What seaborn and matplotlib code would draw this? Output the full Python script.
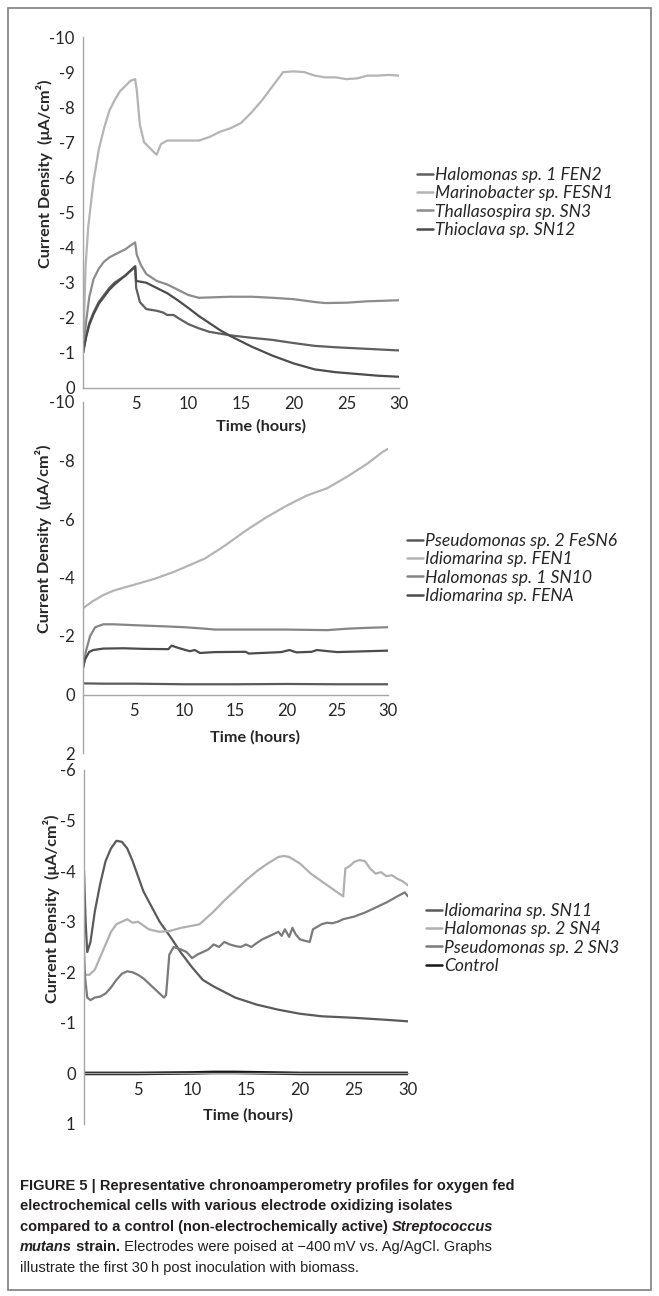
import numpy as np
import pandas as pd
import matplotlib
matplotlib.use("Agg")
import matplotlib.pyplot as plt
from matplotlib.patches import Rectangle
from matplotlib.font_manager import FontProperties
import seaborn as sns

sns.set_style("white")
plt.rcParams["font.family"] = ["Lato", "DejaVu Sans"]
plt.rcParams["axes.unicode_minus"] = False

# ---- panel A (top) ----
top_names = ["Halomonas sp. 1 FEN2", "Marinobacter sp. FESN1",
             "Thallasospira sp. SN3", "Thioclava sp. SN12"]
top_colors = ["#5f5f5f", "#b4b4b4", "#8c8c8c", "#4c4c4c"]

t_fen2 = [0, 0.3, 0.6, 1.0, 1.5, 2.0, 2.5, 3.0, 4.0, 4.95, 5.05, 5.4, 6.0, 7.0, 7.6, 8.0, 8.6,
          9.0, 10.0, 11.0, 12.0, 13.0, 14.0, 16.0, 18.0, 20.0, 22.0, 24.0, 26.0, 28.0, 30.0]
fen2 = [-1.0, -1.5, -1.85, -2.15, -2.45, -2.65, -2.85, -3.0, -3.2, -3.45, -2.85, -2.45, -2.25,
        -2.2, -2.15, -2.08, -2.08, -2.0, -1.82, -1.7, -1.6, -1.55, -1.5, -1.43, -1.37, -1.28,
        -1.2, -1.16, -1.13, -1.1, -1.07]

t_fesn1 = [0, 0.25, 0.5, 1.0, 1.5, 2.0, 2.5, 3.0, 3.5, 4.0, 4.5, 4.95, 5.1, 5.4, 5.8, 6.3, 6.8,
           7.0, 7.4, 8.0, 9.0, 10.0, 11.0, 12.0, 13.0, 14.0, 15.0, 16.0, 17.0, 18.0, 19.0, 20.0,
           21.0, 22.0, 23.0, 24.0, 25.0, 26.0, 27.0, 28.0, 29.0, 30.0]
fesn1 = [-1.0, -3.5, -4.6, -5.9, -6.8, -7.4, -7.9, -8.2, -8.45, -8.6, -8.75, -8.8, -8.5, -7.5,
         -7.0, -6.85, -6.7, -6.65, -6.95, -7.05, -7.05, -7.05, -7.05, -7.15, -7.3, -7.4, -7.55,
         -7.85, -8.2, -8.6, -9.0, -9.02, -9.0, -8.9, -8.85, -8.85, -8.8, -8.82, -8.9, -8.9,
         -8.92, -8.9]

t_sn3a = [0, 0.3, 0.6, 1.0, 1.5, 2.0, 2.5, 3.0, 4.0, 4.95, 5.1, 5.5, 6.0, 7.0, 8.0, 9.0, 10.0,
          11.0, 12.0, 14.0, 16.0, 18.0, 20.0, 22.0, 23.0, 25.0, 27.0, 30.0]
sn3a = [-1.0, -1.9, -2.6, -3.1, -3.4, -3.6, -3.72, -3.8, -3.95, -4.15, -3.8, -3.5, -3.25, -3.05,
        -2.95, -2.8, -2.65, -2.57, -2.58, -2.6, -2.6, -2.57, -2.53, -2.45, -2.42, -2.43, -2.47,
        -2.5]

t_sn12 = [0, 0.3, 0.6, 1.0, 1.5, 2.0, 2.5, 3.0, 4.0, 4.95, 5.05, 6.0, 7.0, 8.0, 9.0, 10.0, 11.0,
          12.0, 13.0, 14.0, 16.0, 18.0, 20.0, 22.0, 24.0, 26.0, 28.0, 30.0]
sn12 = [-1.0, -1.45, -1.8, -2.1, -2.4, -2.6, -2.8, -2.95, -3.2, -3.47, -3.05, -3.0, -2.85, -2.7,
        -2.5, -2.28, -2.05, -1.85, -1.65, -1.48, -1.18, -0.92, -0.7, -0.53, -0.45, -0.4, -0.35,
        -0.32]

# ---- panel B (middle) ----
mid_names = ["Pseudomonas sp. 2 FeSN6", "Idiomarina sp. FEN1",
             "Halomonas sp. 1 SN10", "Idiomarina sp. FENA"]
mid_colors = ["#5a5a5a", "#b4b4b4", "#858585", "#4c4c4c"]

t_fesn6 = [0, 0.1, 2, 5, 10, 15, 20, 25, 30]
fesn6 = [-0.4, -0.38, -0.37, -0.37, -0.35, -0.35, -0.36, -0.35, -0.35]

t_fen1 = [0, 1, 2, 3, 5, 7, 9, 10, 12, 14, 16, 18, 20, 22, 24, 26, 28, 29.5, 30]
fen1 = [-2.95, -3.2, -3.4, -3.55, -3.75, -3.95, -4.2, -4.35, -4.65, -5.1, -5.6, -6.05, -6.45,
        -6.8, -7.05, -7.45, -7.9, -8.3, -8.4]

t_sn10 = [0, 0.3, 0.7, 1.2, 2.0, 3.0, 5.0, 8.0, 10.0, 12.0, 13.0, 16.0, 20.0, 24.0, 26.0, 28.0, 30.0]
sn10 = [-0.9, -1.5, -2.0, -2.3, -2.4, -2.4, -2.37, -2.33, -2.3, -2.25, -2.22, -2.22, -2.22,
        -2.2, -2.25, -2.28, -2.3]

t_fena = [0, 0.2, 0.6, 1.0, 2.0, 4.0, 6.0, 8.4, 8.7, 9.5, 10.5, 11.0, 11.5, 13.0, 16.0, 16.3,
          19.5, 20.3, 21.0, 22.5, 23.0, 25.0, 28.0, 30.0]
fena = [-0.9, -1.2, -1.45, -1.52, -1.57, -1.58, -1.56, -1.55, -1.67, -1.58, -1.48, -1.52, -1.42,
        -1.45, -1.46, -1.4, -1.45, -1.52, -1.44, -1.46, -1.52, -1.45, -1.48, -1.5]

# ---- panel C (bottom) ----
bot_names = ["Idiomarina sp. SN11", "Halomonas sp. 2 SN4",
             "Pseudomonas sp. 2 SN3", "Control"]
bot_colors = ["#5a5a5a", "#b0b0b0", "#7a7a7a", "#161616"]

t_sn11 = [0, 0.15, 0.3, 0.6, 1.0, 1.5, 2.0, 2.5, 3.0, 3.5, 4.0, 4.5, 5.0, 5.5, 6.0, 7.0, 8.0,
          9.0, 10.0, 11.0, 12.0, 14.0, 16.0, 18.0, 20.0, 22.0, 25.0, 28.0, 30.0]
sn11 = [-4.0, -3.0, -2.4, -2.6, -3.2, -3.75, -4.2, -4.45, -4.6, -4.58, -4.45, -4.2, -3.9, -3.6,
        -3.4, -3.0, -2.7, -2.38, -2.1, -1.85, -1.72, -1.5, -1.36, -1.26, -1.18, -1.13, -1.1,
        -1.06, -1.03]

t_sn4 = [0, 0.5, 1.0, 1.5, 2.0, 2.5, 3.0, 3.5, 4.0, 4.5, 5.0, 6.0, 7.0, 8.0, 9.0, 10.0, 10.7,
         12.0, 13.0, 14.0, 15.0, 16.0, 17.0, 18.0, 18.5, 19.0, 20.0, 21.0, 22.0, 23.0, 24.0,
         24.2, 24.6, 25.0, 25.5, 26.0, 26.5, 27.0, 27.5, 28.0, 28.5, 29.0, 29.5, 30.0]
sn4 = [-1.95, -1.95, -2.05, -2.3, -2.55, -2.8, -2.95, -3.0, -3.05, -2.98, -3.0, -2.85, -2.8,
       -2.82, -2.88, -2.92, -2.95, -3.2, -3.42, -3.62, -3.82, -4.0, -4.15, -4.28, -4.3, -4.28,
       -4.15, -3.95, -3.8, -3.65, -3.5, -4.05, -4.1, -4.18, -4.22, -4.2, -4.05, -3.95, -3.98,
       -3.9, -3.92, -3.85, -3.8, -3.72]

t_sn3b = [0, 0.1, 0.3, 0.6, 1.0, 1.5, 2.0, 2.5, 3.0, 3.5, 4.0, 4.5, 5.0, 5.5, 6.0, 6.5, 7.0, 7.4,
          7.6, 7.9, 8.3, 9.0, 9.5, 10.0, 10.5, 11.0, 11.5, 12.0, 12.5, 13.0, 13.5, 14.0, 14.5,
          15.0, 15.5, 16.0, 16.5, 17.0, 17.5, 18.0, 18.3, 18.6, 19.0, 19.3, 19.6, 20.0, 20.5,
          20.9, 21.2, 21.6, 22.0, 22.5, 23.0, 23.5, 24.0, 25.0, 26.0, 27.0, 28.0, 29.0, 29.7, 30.0]
sn3b = [-2.4, -1.9, -1.5, -1.45, -1.5, -1.52, -1.58, -1.7, -1.85, -1.97, -2.02, -2.0, -1.95,
        -1.88, -1.78, -1.68, -1.58, -1.5, -1.55, -2.35, -2.5, -2.45, -2.4, -2.28, -2.35, -2.4,
        -2.45, -2.55, -2.5, -2.6, -2.55, -2.52, -2.5, -2.55, -2.5, -2.58, -2.65, -2.7, -2.75,
        -2.8, -2.72, -2.85, -2.7, -2.88, -2.75, -2.65, -2.62, -2.6, -2.85, -2.9, -2.95, -2.98,
        -2.97, -3.0, -3.05, -3.1, -3.18, -3.28, -3.38, -3.5, -3.58, -3.5]

t_ctrl = [0, 5, 10, 12, 14, 17, 20, 25, 30]
ctrl = [0.0, 0.0, -0.01, -0.02, -0.02, -0.01, 0.0, 0.0, 0.0]

W, H = 659, 1296
fig = plt.figure(figsize=(W / 100, H / 100), dpi=100)
fig.patches.append(Rectangle((8 / W, 1 - 1290 / H), 643 / W, 1282 / H, transform=fig.transFigure,
                             fill=False, edgecolor="#7f7f7f", linewidth=1.2))


def px_axes(left, right, top, bottom):
    ax = fig.add_axes([left / W, 1 - bottom / H, (right - left) / W, (bottom - top) / H])
    ax.set_facecolor("none")
    return ax


def draw_panel(ax, series, names, colors):
    frames = [pd.DataFrame({"time": t, "current": v, "strain": n})
              for (t, v), n in zip(series, names)]
    df = pd.concat(frames, ignore_index=True)
    sns.lineplot(data=df, x="time", y="current", hue="strain", hue_order=names,
                 palette=colors, estimator=None, sort=False, legend=False,
                 linewidth=1.6, ax=ax)


def style_axes(ax):
    for s in ["top", "right"]:
        ax.spines[s].set_visible(False)
    for s in ["left", "bottom"]:
        ax.spines[s].set_color("#a6a6a6")
        ax.spines[s].set_linewidth(1.0)
    ax.tick_params(axis="both", direction="out", length=4, width=1, color="#a6a6a6",
                   labelsize=12, labelcolor="#262626", pad=2)
    ax.set_xlim(0, 30)
    ax.set_xticks([5, 10, 15, 20, 25, 30])
    ax.grid(False)


def add_legend(ax, names, x, y):
    leg = ax.legend(ax.lines, names, loc="upper left", bbox_to_anchor=(x / W, 1 - y / H),
                    bbox_transform=fig.transFigure, frameon=False,
                    prop=FontProperties(family="Lato", style="italic", size=12.6),
                    handlelength=0.9, handletextpad=0.15, labelspacing=0.13,
                    borderpad=0, borderaxespad=0)
    for h in leg.get_lines():
        h.set_linewidth(1.8)


ylab = "Current Density  (\u03bcA/cm\u00b2)"

# top panel
ax1 = px_axes(83, 399, 37, 388)
draw_panel(ax1, [(t_fen2, fen2), (t_fesn1, fesn1), (t_sn3a, sn3a), (t_sn12, sn12)],
           top_names, top_colors)
style_axes(ax1)
ax1.set_ylim(0, -10)
ax1.set_yticks(np.arange(0, -11, -1))
ax1.set_ylabel(ylab, fontsize=11.7, fontweight="bold")
ax1.yaxis.set_label_coords(-0.095, 0.61)
ax1.set_xlabel("Time (hours)", fontsize=11.7, fontweight="bold")
ax1.xaxis.set_label_coords(0.563, -0.09)
add_legend(ax1, top_names, 417, 167)

# middle panel
ax2 = px_axes(83, 388, 402, 753)
draw_panel(ax2, [(t_fesn6, fesn6), (t_fen1, fen1), (t_sn10, sn10), (t_fena, fena)],
           mid_names, mid_colors)
style_axes(ax2)
ax2.set_ylim(2, -10)
ax2.set_yticks(np.arange(2, -11, -2))
ax2.spines["bottom"].set_position(("data", 0))
ax2.set_ylabel(ylab, fontsize=11.7, fontweight="bold")
ax2.yaxis.set_label_coords(-0.102, 0.61)
ax2.set_xlabel("Time (hours)", fontsize=11.7, fontweight="bold")
ax2.xaxis.set_label_coords(0.564, 0.066)
add_legend(ax2, mid_names, 407, 533)

# bottom panel
ax3 = px_axes(84, 408, 770, 1124)
draw_panel(ax3, [(t_sn11, sn11), (t_sn4, sn4), (t_sn3b, sn3b), (t_ctrl, ctrl)],
           bot_names, bot_colors)
ax3.lines[-1].set_linewidth(2.6)
style_axes(ax3)
ax3.set_ylim(1, -6)
ax3.set_yticks(np.arange(1, -7, -1))
ax3.spines["bottom"].set_position(("data", 0))
ax3.set_ylabel(ylab, fontsize=11.7, fontweight="bold")
ax3.yaxis.set_label_coords(-0.074, 0.607)
ax3.set_xlabel("Time (hours)", fontsize=11.7, fontweight="bold")
ax3.xaxis.set_label_coords(0.506, 0.045)
add_legend(ax3, bot_names, 426, 903)

# caption with mixed styles
cap_family = ["Liberation Sans Narrow", "Liberation Sans", "DejaVu Sans"]
cap_lines = [
    [("FIGURE 5 | Representative chronoamperometry profiles for oxygen fed", "bold", "normal")],
    [("electrochemical cells with various electrode oxidizing isolates", "bold", "normal")],
    [("compared to a control (non-electrochemically active) ", "bold", "normal"),
     ("Streptococcus", "bold", "italic")],
    [("mutans", "bold", "italic"), (" strain.", "bold", "normal"),
     (" Electrodes were poised at \u2212400\u2009mV vs. Ag/AgCl. Graphs", "normal", "normal")],
    [("illustrate the first 30\u2009h post inoculation with biomass.", "normal", "normal")],
]
cap_y = [1186, 1206, 1227, 1247, 1268]
renderer = fig.canvas.get_renderer()
for runs, yy in zip(cap_lines, cap_y):
    x = 20 / W
    for txt, wt, st in runs:
        t = fig.text(x, 1 - yy / H, txt, fontsize=10.5, fontweight=wt, fontstyle=st,
                     family=cap_family, color="#231f20", va="center", ha="left")
        bb = t.get_window_extent(renderer=renderer)
        x = bb.x1 / W

fig.savefig("out.png", dpi=100)
